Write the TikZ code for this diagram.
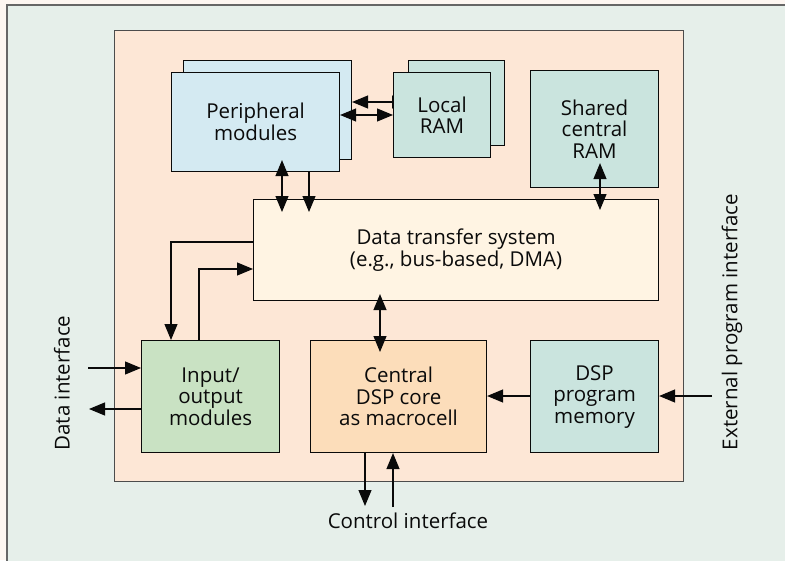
\documentclass[tikz,border=0pt]{standalone}
\usepackage{fontspec}
\setmainfont{Open Sans}
\usetikzlibrary{arrows.meta,calc}
\definecolor{bgout}{HTML}{FDF6F1}
\definecolor{panel}{HTML}{E6EFEA}
\definecolor{chipfill}{HTML}{FDE7D6}
\definecolor{perfill}{HTML}{D4EAF2}
\definecolor{ramfill}{HTML}{CAE4DE}
\definecolor{dtsfill}{HTML}{FFF4E3}
\definecolor{iofill}{HTML}{C9E2C3}
\definecolor{corefill}{HTML}{FCDDBA}
\definecolor{ink}{HTML}{0A0A0A}
\begin{document}
\begin{tikzpicture}[x=1pt,y=-1pt,
  txt/.style={font=\fontsize{20.5}{21.5}\selectfont, text=ink, align=center},
  box/.style={txt, draw=ink, line width=1.1pt, inner sep=0pt, anchor=north west},
  conn/.style={draw=ink, line width=1.2pt, -{Triangle[length=16pt,width=13pt]}},
  bi/.style={draw=ink, line width=1.2pt, {Triangle[length=16pt,width=13pt]}-{Triangle[length=16pt,width=13pt]}},
  lbl/.style={txt, inner sep=0pt}
]
\useasboundingbox (0,0) rectangle (785,560);
\fill[bgout] (0,0) rectangle (785,560);
\draw[draw=black!60, line width=1.5pt, fill=panel] (7,5) rectangle (800,575);

\node[box, draw=black!70, line width=1.3pt, fill=chipfill, minimum width=569pt, minimum height=451pt] (chip) at (114,30) {};

\node[box, fill=perfill, minimum width=168pt, minimum height=99pt] (perback) at (183,60) {};
\node[box, fill=ramfill, minimum width=96pt, minimum height=85pt] (ramback) at (408,60) {};
\coordinate (y1) at (0,102);
\draw[bi] (perback.east |- y1) -- (ramback.west |- y1);

\node[box, fill=perfill, minimum width=168pt, minimum height=99pt] (per) at (171,72) {Peripheral\\modules};
\node[box, fill=ramfill, minimum width=97pt, minimum height=85pt] (ram) at (393,72) {Local\\RAM};
\node[box, fill=ramfill, minimum width=128pt, minimum height=117pt] (shared) at (530,70) {Shared\\central\\RAM};
\node[box, fill=dtsfill, minimum width=405pt, minimum height=101pt] (dts) at (253,199) {Data transfer system\\(e.g., bus-based, DMA)};
\node[box, fill=iofill, minimum width=138pt, minimum height=112pt] (io) at (141,340) {Input/\\output\\modules};
\node[box, fill=corefill, minimum width=176pt, minimum height=112pt] (core) at (310,340) {Central\\DSP core\\as macrocell};
\node[box, fill=ramfill, minimum width=128pt, minimum height=112pt] (pmem) at (530,340) {DSP\\program\\memory};

\node[lbl, rotate=90] (dlabel) at (62,383) {Data interface};
\node[lbl, rotate=90] (elabel) at (732,322) {External program interface};
\node[lbl] (clabel) at (408,521) {Control interface};

\coordinate (y2) at (0,115);
\coordinate (x1) at (282,0);
\coordinate (x2) at (309,0);
\coordinate (x3) at (600,0);
\coordinate (x4) at (380,0);
\coordinate (y3) at (0,242);
\coordinate (x5) at (171,0);
\coordinate (x6) at (199,0);
\coordinate (y4) at (0,269);
\coordinate (y5) at (0,396);
\coordinate (din) at (88,368);
\coordinate (dout) at (89,409);
\coordinate (ext) at (712,396);
\coordinate (cout) at (365,506);
\coordinate (cin) at (393,507);

\draw[bi] (per.east |- y2) -- (ram.west |- y2);
\draw[bi] ($(per.south -| x1)+(0,-12)$) -- ($(dts.north -| x1)+(0,13)$);
\draw[conn] (per.south -| x2) -- ($(dts.north -| x2)+(0,13)$);
\draw[bi] ($(shared.south -| x3)+(0,-25)$) -- ($(dts.north -| x3)+(0,11)$);
\draw[bi] ($(dts.south -| x4)+(0,-7)$) -- ($(core.north -| x4)+(0,12)$);
\draw[conn] (dts.west |- y3) -| (io.north -| x5);
\draw[conn] (io.north -| x6) |- (dts.west |- y4);
\draw[conn] (din) -- (io.west |- din);
\draw[conn] (io.west |- dout) -- (dout);
\draw[conn] (pmem.west |- y5) -- (core.east |- y5);
\draw[conn] (ext) -- (pmem.east |- ext);
\draw[conn] (core.south -| cout) -- (cout);
\draw[conn] (cin) -- (core.south -| cin);
\end{tikzpicture}
\end{document}
